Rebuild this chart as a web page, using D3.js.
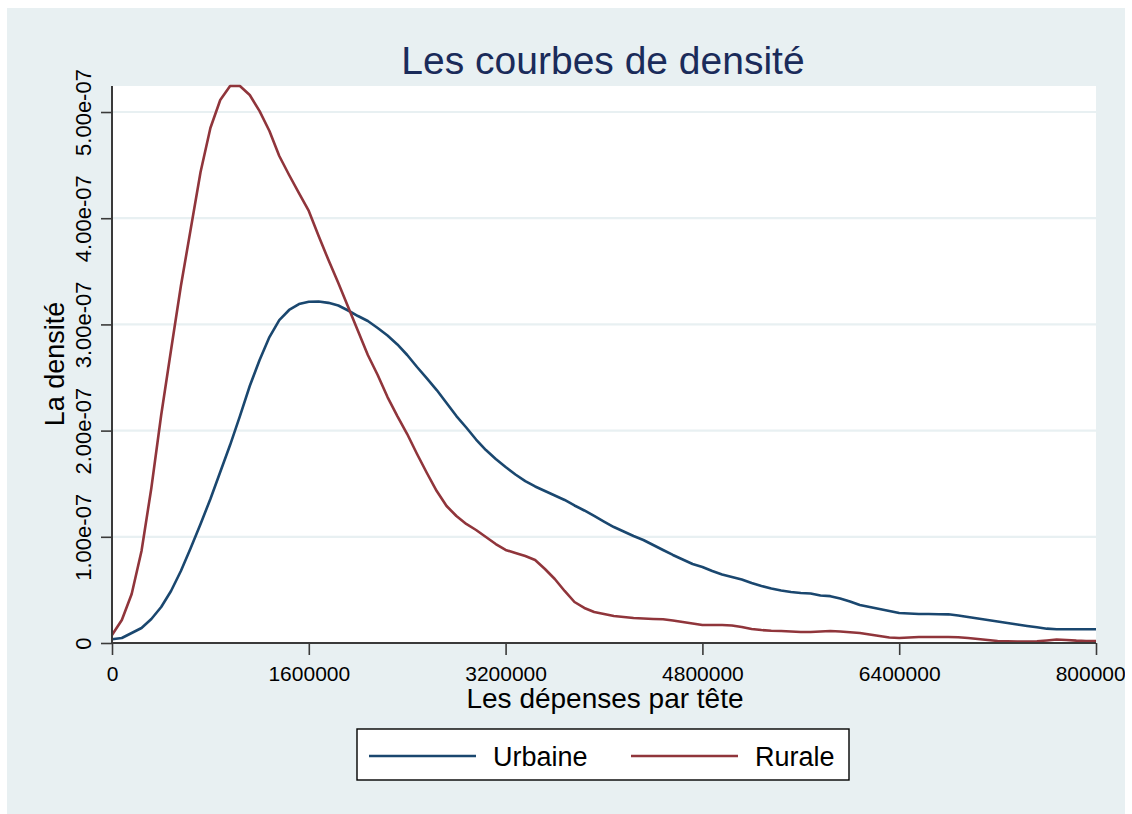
<!DOCTYPE html>
<html>
<head>
<meta charset="utf-8">
<script src="https://cdn.jsdelivr.net/npm/d3@7"></script>
<style>
  html, body { margin: 0; padding: 0; background: #ffffff; }
  svg { display: block; }
  text { font-family: "Liberation Sans", Arial, Helvetica, sans-serif; }
</style>
</head>
<body>
<svg id="chart" width="1132" height="814"></svg>
<script>
// ---- Data (densities in units of 1e-7) ----
const depenses = [0,80000,160000,240000,320000,400000,480000,560000,640000,720000,
  800000,880000,960000,1040000,1120000,1200000,1280000,1360000,1440000,1520000,
  1600000,1680000,1760000,1840000,1920000,2000000,2080000,2160000,2240000,2320000,
  2400000,2480000,2560000,2640000,2720000,2800000,2880000,2960000,3040000,3120000,
  3200000,3280000,3360000,3440000,3520000,3600000,3680000,3760000,3840000,3920000,
  4000000,4080000,4160000,4240000,4320000,4400000,4480000,4560000,4640000,4720000,
  4800000,4880000,4960000,5040000,5120000,5200000,5280000,5360000,5440000,5520000,
  5600000,5680000,5760000,5840000,5920000,6000000,6080000,6160000,6240000,6320000,
  6400000,6480000,6560000,6640000,6720000,6800000,6880000,6960000,7040000,7120000,
  7200000,7280000,7360000,7440000,7520000,7600000,7680000,7760000,7840000,7920000,
  8000000];

const urbaine = [0.035,0.047,0.094,0.141,0.226,0.339,0.490,0.678,0.895,1.121,
  1.356,1.610,1.864,2.137,2.420,2.665,2.881,3.041,3.136,3.192,
  3.214,3.216,3.203,3.178,3.131,3.079,3.032,2.966,2.895,2.811,
  2.712,2.599,2.491,2.382,2.260,2.137,2.029,1.916,1.817,1.733,
  1.657,1.587,1.525,1.474,1.431,1.389,1.347,1.295,1.248,1.196,
  1.144,1.092,1.050,1.008,0.970,0.923,0.876,0.829,0.786,0.744,
  0.716,0.678,0.645,0.621,0.598,0.565,0.537,0.513,0.494,0.480,
  0.471,0.466,0.447,0.441,0.419,0.391,0.358,0.339,0.320,0.301,
  0.282,0.278,0.273,0.273,0.271,0.270,0.259,0.245,0.231,0.217,
  0.202,0.188,0.174,0.160,0.148,0.135,0.129,0.129,0.129,0.129,
  0.129];

const rurale = [0.075,0.217,0.461,0.866,1.460,2.147,2.759,3.362,3.898,4.435,
  4.849,5.113,5.245,5.245,5.160,5.009,4.821,4.586,4.407,4.237,
  4.068,3.832,3.606,3.390,3.164,2.938,2.712,2.524,2.316,2.137,
  1.968,1.780,1.601,1.431,1.290,1.196,1.121,1.064,0.998,0.932,
  0.876,0.847,0.819,0.782,0.697,0.603,0.490,0.386,0.330,0.292,
  0.273,0.254,0.245,0.235,0.231,0.226,0.223,0.212,0.198,0.184,
  0.169,0.169,0.169,0.165,0.151,0.132,0.122,0.116,0.113,0.108,
  0.104,0.104,0.108,0.113,0.108,0.101,0.094,0.080,0.066,0.052,
  0.047,0.052,0.056,0.056,0.056,0.056,0.054,0.047,0.038,0.028,
  0.019,0.016,0.014,0.014,0.017,0.024,0.033,0.028,0.022,0.019,
  0.019];

const xTicks = [0, 1600000, 3200000, 4800000, 6400000, 8000000];
const yTicks = [0, 1, 2, 3, 4, 5];
const yTickLabels = ["0", "1.00e-07", "2.00e-07", "3.00e-07", "4.00e-07", "5.00e-07"];
const seriesNames = ["Urbaine", "Rurale"];
const seriesColors = ["#1a476f", "#90353b"];
const titleText = "Les courbes de densité";
const xTitle = "Les dépenses par tête";
const yTitle = "La densité";

// ---- Layout ----
const W = 1132, H = 814;
const bg = { x: 7, y: 8, w: 1118, h: 806 };
const plot = { left: 112, right: 1096, top: 86, bottom: 643 };
const bgColor = "#e8f0f2";
const axisColor = "#3a3a3a";

const svg = d3.select("#chart");
svg.append("rect").attr("x", 0).attr("y", 0).attr("width", W).attr("height", H).attr("fill", "#ffffff");

svg.append("defs").append("clipPath").attr("id", "bgclip")
  .append("rect").attr("x", bg.x).attr("y", bg.y).attr("width", bg.w).attr("height", bg.h);

const root = svg.append("g").attr("clip-path", "url(#bgclip)");
root.append("rect").attr("x", bg.x).attr("y", bg.y).attr("width", bg.w).attr("height", bg.h).attr("fill", bgColor);

root.append("rect")
  .attr("x", plot.left).attr("y", plot.top)
  .attr("width", plot.right - plot.left).attr("height", plot.bottom - plot.top)
  .attr("fill", "#ffffff");

const x = d3.scaleLinear().domain([0, 8000000]).range([plot.left, plot.right]);
const y = d3.scaleLinear().domain([0, 5.245]).range([plot.bottom, plot.top]);

// gridlines
root.append("g").selectAll("line")
  .data(yTicks.filter(d => d > 0))
  .join("line")
  .attr("x1", plot.left).attr("x2", plot.right)
  .attr("y1", d => y(d)).attr("y2", d => y(d))
  .attr("stroke", bgColor).attr("stroke-width", 2.2);

// curves
const line = d3.line().x((d, i) => x(depenses[i])).y(d => y(d));
[urbaine, rurale].forEach((vals, k) => {
  root.append("path")
    .datum(vals)
    .attr("d", line)
    .attr("fill", "none")
    .attr("stroke", seriesColors[k])
    .attr("stroke-width", 2.6)
    .attr("stroke-linejoin", "round");
});

// y axis
const yAxis = d3.axisLeft(y).tickValues(yTicks).tickSize(11).tickFormat((d, i) => yTickLabels[i]);
const gy = root.append("g").attr("transform", `translate(${plot.left},0)`).call(yAxis);
gy.select(".domain").attr("stroke", axisColor).attr("stroke-width", 2)
  .attr("d", `M0,${plot.top}V${plot.bottom}`);
gy.selectAll(".tick line").attr("stroke", axisColor).attr("stroke-width", 1.6);
gy.selectAll(".tick text")
  .attr("font-size", 22).attr("fill", "#000")
  .attr("text-anchor", "middle")
  .attr("x", null).attr("dy", null)
  .attr("transform", "translate(-21,0) rotate(-90)");

// x axis
const xAxis = d3.axisBottom(x).tickValues(xTicks).tickSize(12).tickFormat(d3.format("d"));
const gx = root.append("g").attr("transform", `translate(0,${plot.bottom})`).call(xAxis);
gx.select(".domain").attr("stroke", axisColor).attr("stroke-width", 2)
  .attr("d", `M${plot.left},0H${plot.right}`);
gx.selectAll(".tick line").attr("stroke", axisColor).attr("stroke-width", 1.6);
gx.selectAll(".tick text")
  .attr("font-size", 21).attr("fill", "#000")
  .attr("y", 38).attr("dy", null);

// titles
root.append("text").attr("x", 603).attr("y", 74)
  .attr("text-anchor", "middle").attr("font-size", 39).attr("fill", "#1a2b5a")
  .text(titleText);

root.append("text").attr("x", 605).attr("y", 708)
  .attr("text-anchor", "middle").attr("font-size", 28).attr("fill", "#000")
  .text(xTitle);

root.append("text")
  .attr("transform", "translate(64,364) rotate(-90)")
  .attr("text-anchor", "middle").attr("font-size", 27).attr("fill", "#000")
  .text(yTitle);

// legend
const leg = root.append("g");
leg.append("rect").attr("x", 357).attr("y", 729).attr("width", 492).attr("height", 51)
  .attr("fill", "#ffffff").attr("stroke", "#000").attr("stroke-width", 1.4);
const legX = [369, 631];
seriesNames.forEach((name, k) => {
  leg.append("line").attr("x1", legX[k]).attr("x2", legX[k] + 107)
    .attr("y1", 756).attr("y2", 756)
    .attr("stroke", seriesColors[k]).attr("stroke-width", 2.6);
  leg.append("text").attr("x", legX[k] + 124).attr("y", 766)
    .attr("font-size", 27).attr("fill", "#000").text(name);
});
</script>
</body>
</html>
